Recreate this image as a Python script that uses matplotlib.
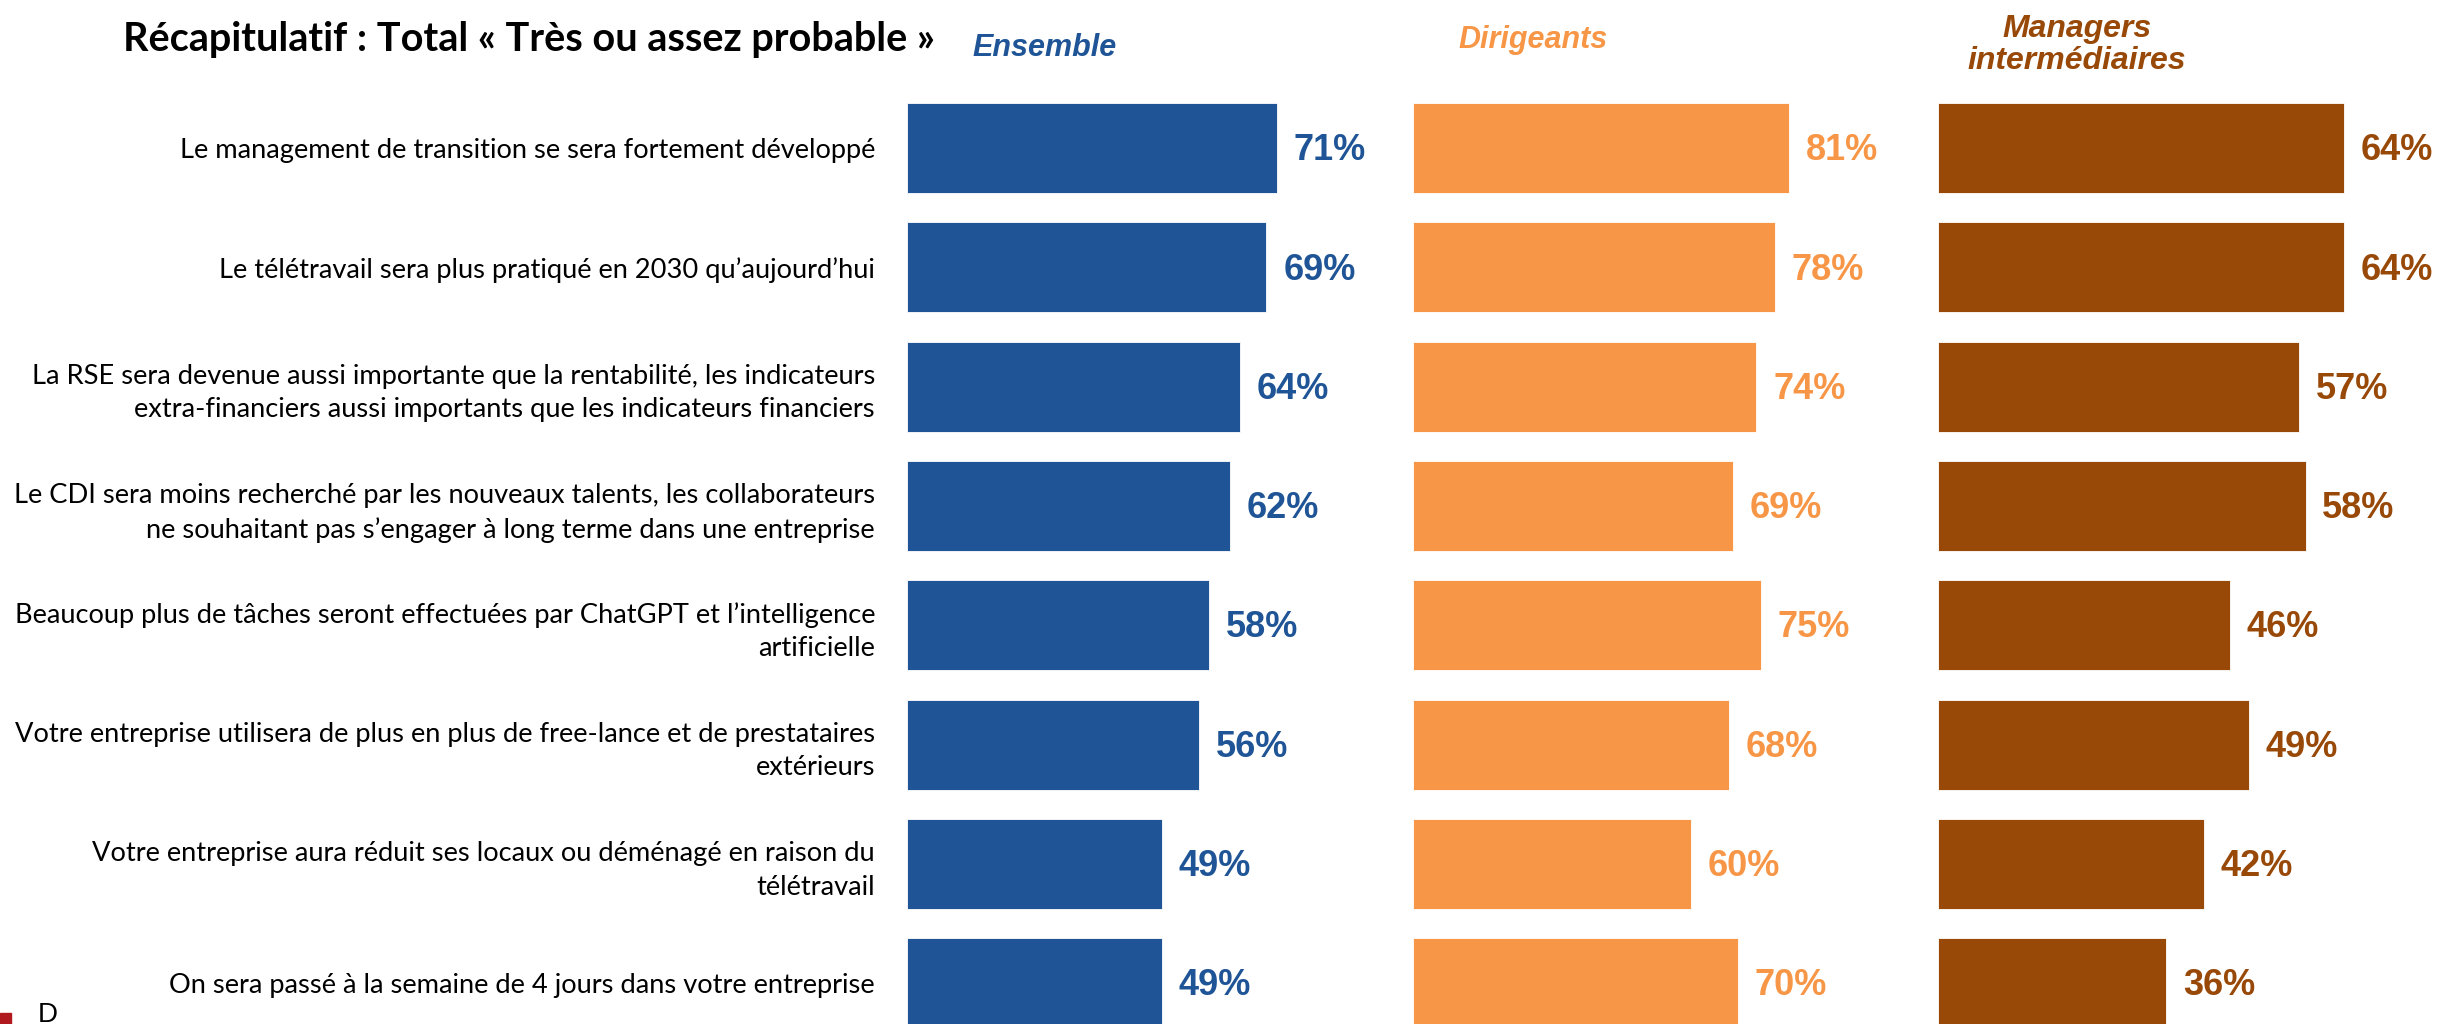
import numpy as np
import matplotlib.pyplot as plt
from matplotlib.patches import Rectangle

categories = [
    "Le management de transition se sera fortement développé",
    "Le télétravail sera plus pratiqué en 2030 qu\u2019aujourd\u2019hui",
    "La RSE sera devenue aussi importante que la rentabilité, les indicateurs\nextra-financiers aussi importants que les indicateurs financiers",
    "Le CDI sera moins recherché par les nouveaux talents, les collaborateurs\nne souhaitant pas s\u2019engager à long terme dans une entreprise",
    "Beaucoup plus de tâches seront effectuées par ChatGPT et l\u2019intelligence\nartificielle",
    "Votre entreprise utilisera de plus en plus de free-lance et de prestataires\nextérieurs",
    "Votre entreprise aura réduit ses locaux ou déménagé en raison du\ntélétravail",
    "On sera passé à la semaine de 4 jours dans votre entreprise",
]
ensemble = [71, 69, 64, 62, 58, 56, 49, 49]
dirigeants = [81, 78, 74, 69, 75, 68, 60, 70]
managers = [64, 64, 57, 58, 46, 49, 42, 36]

groups = ["Ensemble", "Dirigeants", "Managers\nintermédiaires"]
colors = ["#1F5596", "#F79646", "#984807"]

W, H = 2440, 1024
fig = plt.figure(figsize=(W / 100, H / 100), dpi=100)

y = np.arange(len(categories))
row_px = 119.3
first_px = 148
ylim = ((H - first_px) / row_px, -first_px / row_px)

# panel: left pixel, right pixel, pixels per percent
panels = [(907, 1400, 5.21), (1413, 1925, 4.64), (1938, 2440, 6.34)]
series = [ensemble, dirigeants, managers]

for k, ((x0, x1, ppp), vals, col) in enumerate(zip(panels, series, colors)):
    ax = fig.add_axes([x0 / W, 0, (x1 - x0) / W, 1])
    ax.barh(y, vals, height=90 / row_px, color=col, edgecolor="white", linewidth=0.6)
    ax.set_xlim(0, (x1 - x0) / ppp)
    ax.set_ylim(*ylim)
    for i, v in enumerate(vals):
        ax.annotate(f"{v}%", (v, i), xytext=(12, -2), textcoords="offset points",
                    ha="left", va="center", fontsize=26, fontweight="bold",
                    family="Liberation Sans", color=col)
    for s in ax.spines.values():
        s.set_visible(False)
    ax.set_xticks([])
    if k == 0:
        ax.set_yticks(y)
        ax.set_yticklabels(categories, fontsize=19.6, family="Lato", linespacing=1.42)
        ax.tick_params(axis="y", length=0, pad=23)
    else:
        ax.set_yticks([])

fig.text(123 / W, 1 - 40 / H, "Récapitulatif : Total « Très ou assez probable »",
         fontsize=28.5, fontweight="bold", family="Lato", va="center", ha="left")
fig.text(1045 / W, 1 - 48 / H, groups[0], fontsize=22, fontweight="bold", style="italic",
         family="Liberation Sans", color=colors[0], ha="center", va="center")
fig.text(1533 / W, 1 - 40 / H, groups[1], fontsize=22, fontweight="bold", style="italic",
         family="Liberation Sans", color=colors[1], ha="center", va="center")
fig.text(2077 / W, 1 - 45 / H, groups[2], fontsize=23, fontweight="bold", style="italic",
         family="Liberation Sans", color=colors[2], ha="center", va="center", linespacing=1.1)

# logo fragment in the bottom-left corner
fig.patches.append(Rectangle((0, 0), 11 / W, 11 / H, transform=fig.transFigure,
                             color="#B0191E"))
fig.text(38 / W, -4 / H, "D", fontsize=20, family="Liberation Sans", va="bottom", ha="left")

fig.savefig("out.png", dpi=100)
